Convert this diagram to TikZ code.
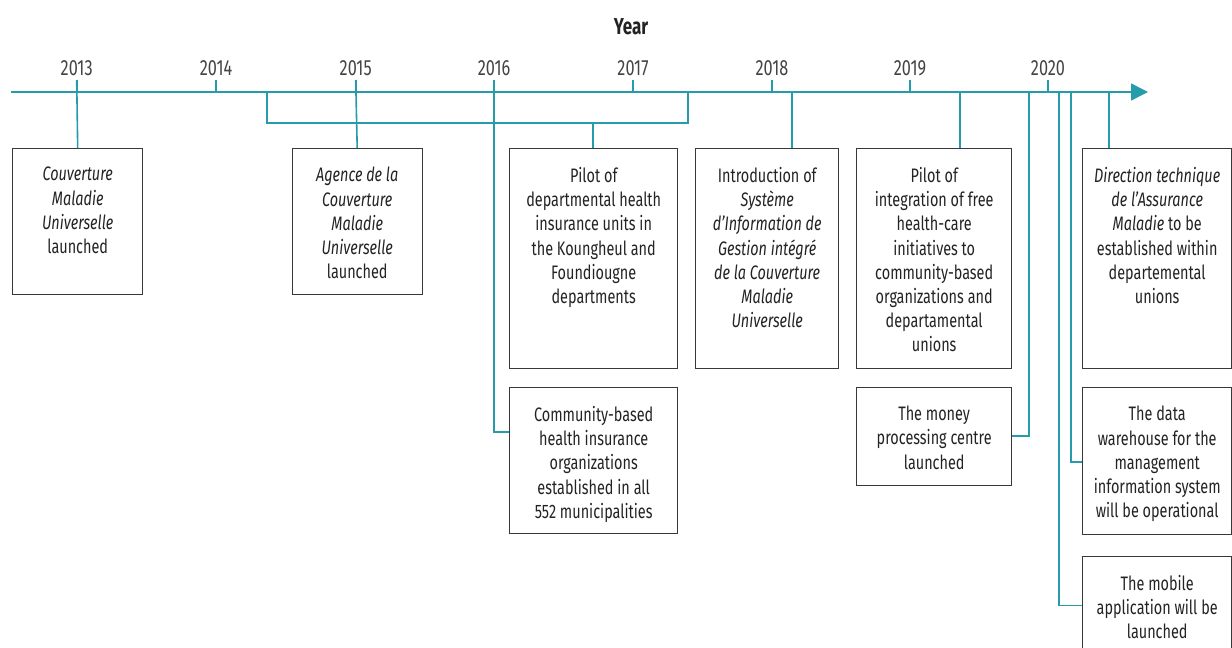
\documentclass[tikz,border=0pt]{standalone}
\usepackage{fontspec}
\setmainfont{Fira Sans}[FakeStretch=0.74]
\usetikzlibrary{arrows.meta}
\definecolor{teal}{RGB}{38,155,170}
\definecolor{ink}{RGB}{35,35,35}
\begin{document}
\begin{tikzpicture}[x=1pt,y=-1pt,
  tl/.style={draw=teal,line width=1.6pt},
  box/.style={draw=ink!90,line width=1.4pt,rectangle,inner sep=0pt,anchor=north west},
  txt/.style={text=ink,align=center,inner sep=0pt,anchor=north,font=\fontsize{19.5}{24.2}\selectfont},
  yr/.style={text=ink!85,font=\fontsize{22}{24}\selectfont}]
\useasboundingbox (0,0) rectangle (1232,648);
\node[text=ink,font=\fontsize{23}{26}\selectfont\bfseries] (title) at (631,27) {Year};
% axis
\coordinate (a0) at (11,92);
\coordinate (a1) at (1148,92);
\draw[tl,-{Triangle[length=17pt,width=17pt]}] (a0) -- (a1);
% years and ticks
\foreach \y/\x in {2013/76.7,2014/216,2015/355.7,2016/494,2017/633,2018/772,2019/910,2020/1048}{
  \node[yr] (y\y) at (\x,68) {\y};
  \coordinate (k\y) at (\x,80);
  \coordinate (g\y) at (\x,92);
  \draw[tl] (k\y) -- (g\y);
}
% boxes
\node[box,minimum width=130pt,minimum height=146pt] (b1) at (12,148) {};
\node[box,minimum width=130pt,minimum height=146pt] (b2) at (291.5,148) {};
\node[box,minimum width=168pt,minimum height=220pt] (b3) at (509,148) {};
\node[box,minimum width=143pt,minimum height=220pt] (b4) at (695,148) {};
\node[box,minimum width=155pt,minimum height=220pt] (b5) at (856,148) {};
\node[box,minimum width=149pt,minimum height=220pt] (b6) at (1082,148) {};
\node[box,minimum width=168pt,minimum height=146pt] (b7) at (509,387) {};
\node[box,minimum width=155pt,minimum height=98pt] (b8) at (856,387) {};
\node[box,minimum width=149pt,minimum height=147pt] (b9) at (1082,387) {};
\node[box,minimum width=149pt,minimum height=100pt] (b10) at (1082,556) {};
% texts
\node[txt] (t1) at ([yshift=-19pt]b1.north) {\itshape Couverture\\\itshape Maladie\\\itshape Universelle\\launched};
\node[txt] (t2) at ([yshift=-19pt]b2.north) {\itshape Agence de la\\\itshape Couverture\\\itshape Maladie\\\itshape Universelle\\launched};
\node[txt] (t3) at ([yshift=-19pt]b3.north) {Pilot of\\departmental health\\insurance units in\\the Koungheul and\\Foundiougne\\departments};
\node[txt] (t4) at ([yshift=-19pt]b4.north) {Introduction of\\\itshape Système\\\itshape d’Information de\\\itshape Gestion intégré\\\itshape de la Couverture\\\itshape Maladie\\\itshape Universelle};
\node[txt] (t5) at ([yshift=-19pt]b5.north) {Pilot of\\integration of free\\health-care\\initiatives to\\community-based\\organizations and\\departamental\\unions};
\node[txt] (t6) at ([yshift=-19pt]b6.north) {\itshape Direction technique\\\itshape de l’Assurance\\\textit{Maladie} to be\\established within\\departemental\\unions};
\node[txt] (t7) at ([yshift=-19pt]b7.north) {Community-based\\health insurance\\organizations\\established in all\\552 municipalities};
\node[txt] (t8) at ([yshift=-19pt]b8.north) {The money\\processing centre\\launched};
\node[txt] (t9) at ([yshift=-19pt]b9.north) {The data\\warehouse for the\\management\\information system\\will be operational};
\node[txt] (t10) at ([yshift=-19pt]b10.north) {The mobile\\application will be\\launched};
% connectors
\draw[tl] (k2013) -- (b1.north);
\draw[tl] (k2015) -- (b2.north);
\coordinate (br0) at (267,92);
\coordinate (br1) at (267,123);
\coordinate (br2) at (688,123);
\coordinate (br3) at (688,92);
\draw[tl] (br0) -- (br1) -- (br2) -- (br3);
\coordinate (bm) at (593,123);
\draw[tl] (bm) -- (bm |- b3.north);
\coordinate (c16) at (494,432);
\draw[tl] (k2016) -- (c16) -- (c16 -| b7.west);
\coordinate (c4) at (792,92);
\draw[tl] (c4) -- (c4 |- b4.north);
\coordinate (c5) at (960,92);
\draw[tl] (c5) -- (c5 |- b5.north);
\coordinate (c8a) at (1029,92);
\coordinate (c8b) at (1029,436);
\draw[tl] (c8a) -- (c8b) -- (c8b -| b8.east);
\coordinate (c10a) at (1059,92);
\coordinate (c10b) at (1059,605.5);
\draw[tl] (c10a) -- (c10b) -- (c10b -| b10.west);
\coordinate (c9a) at (1070.7,92);
\coordinate (c9b) at (1070.7,462);
\draw[tl] (c9a) -- (c9b) -- (c9b -| b9.west);
\coordinate (c6) at (1109,92);
\draw[tl] (c6) -- (c6 |- b6.north);
\end{tikzpicture}
\end{document}
